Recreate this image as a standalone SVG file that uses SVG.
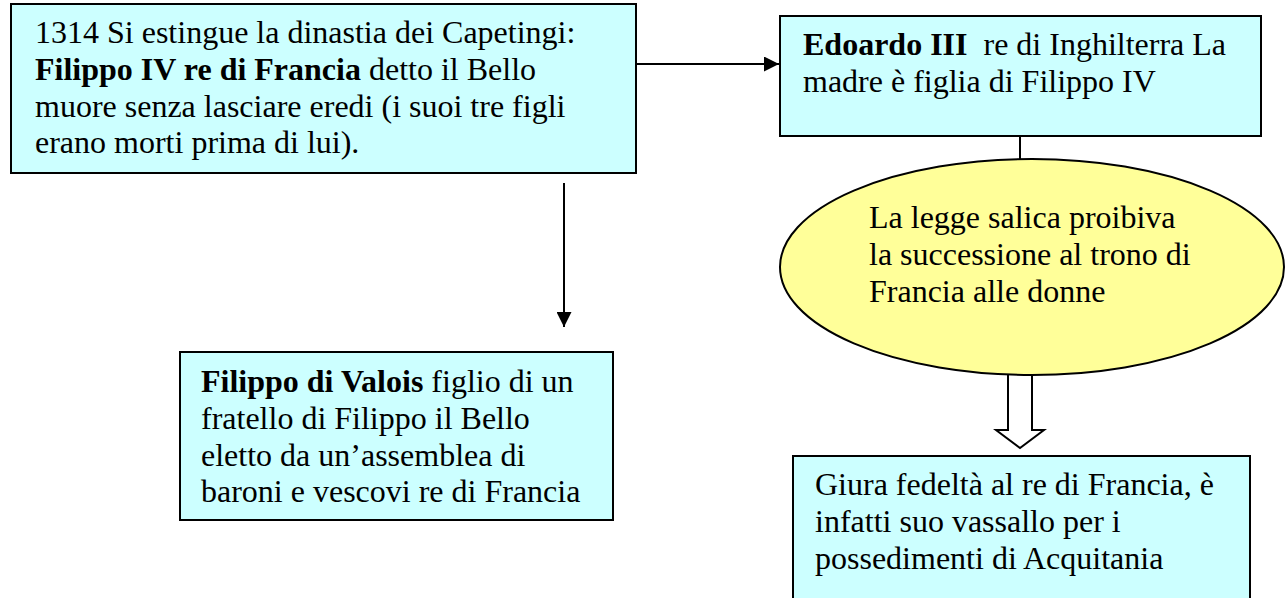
<svg xmlns="http://www.w3.org/2000/svg" width="1287" height="598" viewBox="0 0 1287 598">
<style>
.box{fill:#CCFFFF;stroke:#000;stroke-width:2}
.ell{fill:#FFFF99;stroke:#000;stroke-width:2}
.t{font-family:"Liberation Serif","Times New Roman",serif;font-size:32px;fill:#000}
.b{font-weight:bold}
.ln{stroke:#000;stroke-width:2;fill:none}
.hollow{fill:#fff;stroke:#000;stroke-width:2;stroke-linejoin:miter}
</style>
<defs>
<marker id="ah" markerWidth="15" markerHeight="15" viewBox="0 0 16 16" refX="16" refY="8" orient="auto" markerUnits="userSpaceOnUse">
<path d="M0,0 L16,8 L0,16 Z" fill="#000"/>
</marker>
</defs>
<g id="connectors">
<line class="ln" x1="636" y1="64" x2="779" y2="64" marker-end="url(#ah)"/>
<line class="ln" x1="564" y1="183" x2="564" y2="327" marker-end="url(#ah)"/>
<line class="ln" x1="1020" y1="136" x2="1020" y2="160"/>
<path class="hollow" d="M1008,375 L1008,430 L996,430 L1020,448 L1044,430 L1032,430 L1032,375"/>
</g>
<g id="node-capetingi">
<rect class="box" x="11" y="4" width="625" height="169"/>
<text class="t" x="35" y="43">1314 Si estingue la dinastia dei Capetingi:</text>
<text class="t" x="35" y="79.8"><tspan class="b">Filippo IV re di Francia</tspan> detto il Bello</text>
<text class="t" x="35" y="116.6">muore senza lasciare eredi (i suoi tre figli</text>
<text class="t" x="35" y="153.4">erano morti prima di lui).</text>
</g>
<g id="node-edoardo">
<rect class="box" x="780" y="16" width="481" height="120"/>
<text class="t" x="803" y="55"><tspan class="b">Edoardo III</tspan>&#160; re di Inghilterra La</text>
<text class="t" x="803" y="91.8">madre è figlia di Filippo IV</text>
</g>
<g id="node-legge">
<ellipse class="ell" cx="1032" cy="267" rx="252" ry="108"/>
<text class="t" x="869" y="228">La legge salica proibiva</text>
<text class="t" x="869" y="265">la successione al trono di</text>
<text class="t" x="869" y="302">Francia alle donne</text>
</g>
<g id="node-valois">
<rect class="box" x="180" y="352" width="433" height="168"/>
<text class="t" x="201" y="392"><tspan class="b">Filippo di Valois</tspan> figlio di un</text>
<text class="t" x="201" y="428.8">fratello di Filippo il Bello</text>
<text class="t" x="201" y="465.6">eletto da un’assemblea di</text>
<text class="t" x="201" y="502.4">baroni e vescovi re di Francia</text>
</g>
<g id="node-giura">
<rect class="box" x="793" y="456" width="457" height="170"/>
<text class="t" x="815" y="495">Giura fedeltà al re di Francia, è</text>
<text class="t" x="815" y="532">infatti suo vassallo per i</text>
<text class="t" x="815" y="569">possedimenti di Acquitania</text>
</g>
</svg>
